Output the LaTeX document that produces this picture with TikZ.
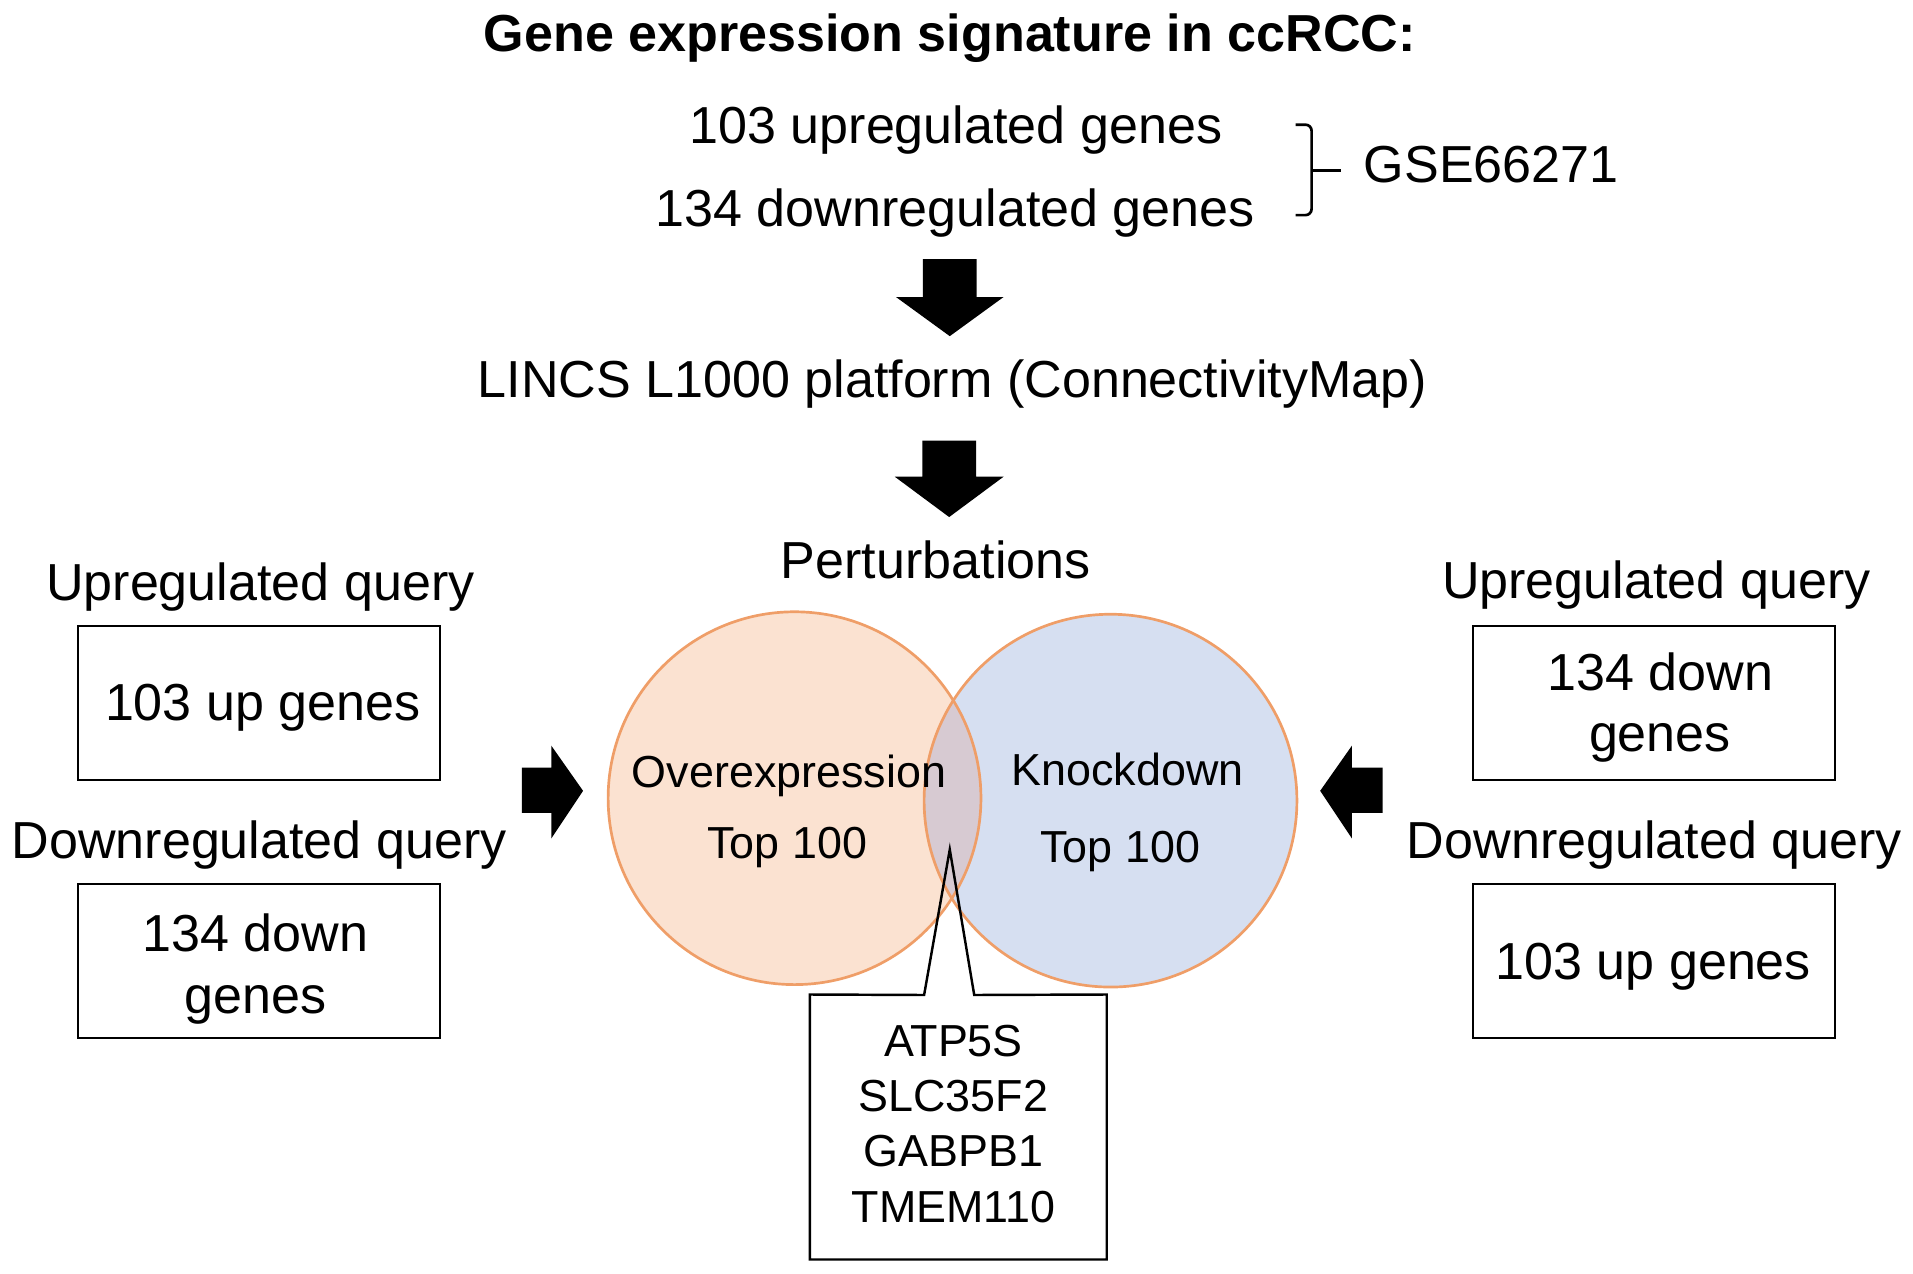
\documentclass[tikz,border=0pt]{standalone}
\usepackage{fontspec}
\setmainfont{Liberation Sans}
\definecolor{peach}{HTML}{FBE2D1}
\definecolor{paleblue}{HTML}{D6DFF1}
\definecolor{overlapc}{HTML}{D7CAD2}
\definecolor{ringc}{HTML}{EF9E68}
\begin{document}
\begin{tikzpicture}[x=0.5pt,y=-0.5pt,
  big/.style={font=\fontsize{21.3pt}{21.75pt}\selectfont, inner sep=0pt, anchor=base},
  small/.style={font=\fontsize{18.35pt}{22.6pt}\selectfont, inner sep=0pt, anchor=base},
  qbox/.style={draw, line width=1pt, minimum width=148pt, minimum height=63pt, inner sep=0pt},
  ring/.style={draw=ringc, line width=1.1pt},
  blockarrow/.style={fill=black}]
\useasboundingbox (0,0) rectangle (1565,1042);

% title and signature
\node[big, font=\fontsize{21.3pt}{21.75pt}\selectfont\bfseries] (title) at (777,42) {Gene expression signature in ccRCC:};
\node[big] (upl) at (782,117) {103 upregulated genes};
\node[big] (dnl) at (781.5,185) {134 downregulated genes};
\node[big] (gse) at (1220,149) {GSE66271};
\draw[line width=1.1pt, rounded corners=2.5pt] (1060,102) -- (1073,102) -- (1073,176) -- (1060,176);
\draw[line width=1.1pt] (1073,139.6) -- (1097,139.6);

% arrow 1
\fill[blockarrow] (755,212) -- (799,212) -- (799,243) -- (821,243) -- (777,275) -- (733,243) -- (755,243) -- cycle;
\node[big] (lincs) at (779,325) {LINCS L1000 platform (ConnectivityMap)};
% arrow 2
\fill[blockarrow] (754.5,360.5) -- (798.5,360.5) -- (798.5,390) -- (821,390) -- (776.5,423) -- (732,390) -- (754.5,390) -- cycle;
\node[big] (pert) at (765.5,473) {Perturbations};

% Venn circles
\node[circle, fill=peach, minimum size=152.5pt, inner sep=0pt] (ov) at (650,653) {};
\node[circle, fill=paleblue, minimum size=152.5pt, inner sep=0pt] (kd) at (908.5,655) {};
\begin{scope}
  \clip (ov.center) circle [radius=152.5];
  \fill[overlapc] (kd.center) circle [radius=152.5];
\end{scope}
\draw[ring] (ov.center) circle [radius=152.5];
\draw[ring] (kd.center) circle [radius=152.5];

\node[small] (ovt) at (645.5,644) {Overexpression};
\node[small] (ovn) at (644,702) {Top 100};
\node[small] (kdt) at (922.5,643) {Knockdown};
\node[small] (kdn) at (916.5,706) {Top 100};

% callout
\node[minimum width=121pt, minimum height=108pt, inner sep=0pt] (cb) at (784,922) {};
\coordinate (tip) at (777,695);
\draw[line width=1pt, line join=miter] (cb.north west) -- (756,814) -- (tip) -- (797,814) -- (cb.north east) -- (cb.south east) -- (cb.south west) -- cycle;
\node[small] (g1) at (780,864) {ATP5S};
\node[small] (g2) at (780,909.4) {SLC35F2};
\node[small] (g3) at (780,954.4) {GABPB1};
\node[small] (g4) at (780,1000) {TMEM110};

% left column
\node[big] (luq) at (213,491) {Upregulated query};
\node[qbox] (lb1) at (212,575) {};
\node[big] (lb1t) at (215,589.5) {103 up genes};
\node[big] (ldq) at (212,702) {Downregulated query};
\node[qbox] (lb2) at (212,786) {};
\node[big] (lb2a) at (209,778.5) {134 down};
\node[big] (lb2b) at (209,829) {genes};

% right column
\node[big] (ruq) at (1355,490) {Upregulated query};
\node[qbox] (rb1) at (1353,575) {};
\node[big] (rb1a) at (1358.5,564.5) {134 down};
\node[big] (rb1b) at (1358,615) {genes};
\node[big] (rdq) at (1353.5,702) {Downregulated query};
\node[qbox] (rb2) at (1353,786) {};
\node[big] (rb2t) at (1352.5,801) {103 up genes};

% side arrows
\fill[blockarrow] (427,628) -- (451,628) -- (451,610) -- (477,647) -- (451,686) -- (451,665) -- (427,665) -- cycle;
\fill[blockarrow] (1131,628) -- (1106,628) -- (1106,610) -- (1080,647) -- (1106,686) -- (1106,665) -- (1131,665) -- cycle;
\end{tikzpicture}
\end{document}
